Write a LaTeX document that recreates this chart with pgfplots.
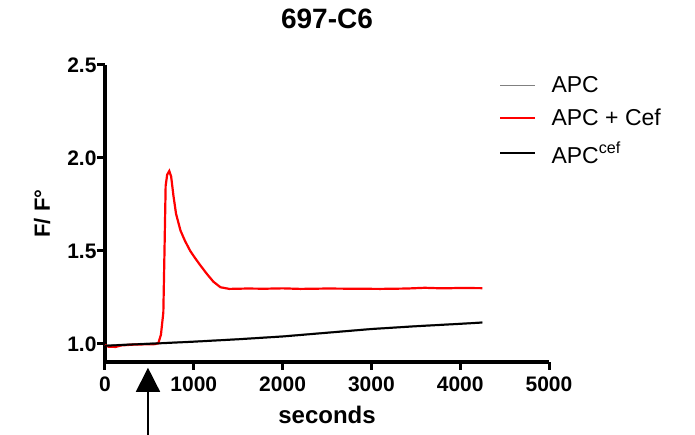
\documentclass[border=0pt]{standalone}
\usepackage{pgfplots}
\pgfplotsset{compat=1.18}
\usepackage{fontspec}
\setmainfont{Liberation Sans}
\usetikzlibrary{arrows.meta}

\begin{document}
\begin{tikzpicture}
\begin{axis}[
  scale only axis,
  width=444pt, height=297pt,
  xmin=0, xmax=5000, ymin=0.903, ymax=2.5,
  axis x line=bottom, axis y line=left,
  axis line style={line width=3.5pt, -},
  xtick={0,1000,2000,3000,4000,5000},
  xticklabels={0,1000,2000,3000,4000,5000},
  ytick={1,1.5,2,2.5},
  yticklabels={1.0,1.5,2.0,2.5},
  tick align=outside,
  major tick length=8pt,
  every tick/.style={black, line width=3pt},
  tick label style={font=\bfseries\fontsize{21}{21}\selectfont},
  xticklabel style={yshift=-3pt},
  yticklabel style={xshift=3pt},
  xlabel={\bfseries seconds},
  ylabel={\bfseries F/ F°},
  xlabel style={font=\fontsize{24}{24}\selectfont, yshift=-8pt},
  ylabel style={font=\fontsize{22}{22}\selectfont, yshift=10pt},
  title={\bfseries 697-C6},
  title style={font=\fontsize{28}{28}\selectfont, yshift=27pt},
  clip=false,
  legend cell align=left,
  legend style={draw=none, fill=none, at={(0.881,0.975)}, anchor=north west,
    font=\fontsize{23}{23}\selectfont, row sep=11pt, column sep=12pt,
    nodes={inner xsep=3pt}},
  legend image code/.code={\draw[#1] (0pt,0pt) -- (35pt,0pt);},
]
\addplot[gray, line width=1.2pt] coordinates {
  (0,0.993) (300,1.0) (600,1.006) (1000,1.015) (1500,1.028) (2000,1.043)
  (2500,1.063) (3000,1.083) (3500,1.098) (4000,1.111) (4250,1.118)
};
\addlegendentry{APC}
\addplot[red, line width=2.2pt] coordinates {
  (0,0.995) (40,0.985) (120,0.984) (180,0.992) (300,0.996) (450,0.998)
  (560,0.999) (600,1.003) (630,1.05) (657,1.17) (670,1.50) (683,1.85)
  (700,1.91) (724,1.93) (745,1.90) (770,1.80) (800,1.70) (850,1.61)
  (900,1.555) (960,1.50) (1010,1.465) (1070,1.425) (1150,1.375)
  (1220,1.335) (1300,1.305) (1400,1.296) (1600,1.298) (1800,1.297)
  (2000,1.299) (2200,1.296) (2500,1.298) (2800,1.297) (3100,1.296)
  (3400,1.298) (3600,1.302) (3800,1.299) (4000,1.301) (4250,1.300)
};
\addlegendentry{APC + Cef}
\addplot[black, line width=2pt] coordinates {
  (0,0.99) (300,0.997) (600,1.003) (1000,1.012) (1500,1.025) (2000,1.04)
  (2500,1.06) (3000,1.08) (3500,1.095) (4000,1.108) (4250,1.115)
};
\addlegendentry{APC\textsuperscript{cef}}
\draw[line width=1.5pt, -{Triangle[length=24pt,width=24pt]}]
  (axis cs:484,0.51) -- (axis cs:484,0.872);
\end{axis}
\pgfresetboundingbox
\path[use as bounding box] (-105pt,-73pt) rectangle (590pt,362pt);
\end{tikzpicture}
\end{document}
